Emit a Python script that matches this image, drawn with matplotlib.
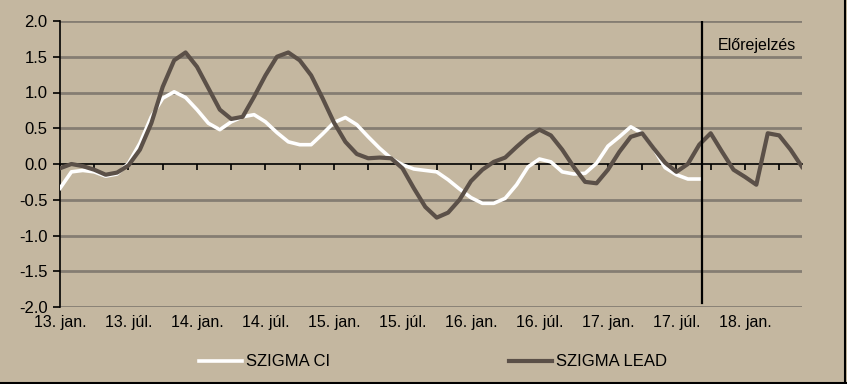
import matplotlib
matplotlib.use("Agg")
import matplotlib.pyplot as plt
from matplotlib.lines import Line2D

plt.rcParams['font.family'] = ['Liberation Sans', 'DejaVu Sans']
plt.rcParams['axes.unicode_minus'] = False

# monthly data, Jan 2013 .. Jun 2018
month_labels = ['13. jan.', '13. júl.', '14. jan.', '14. júl.', '15. jan.', '15. júl.',
                '16. jan.', '16. júl.', '17. jan.', '17. júl.', '18. jan.']

szigma_ci = [-0.34, -0.11, -0.09, -0.11, -0.17, -0.14, 0.01, 0.29, 0.66, 0.92,
             1.01, 0.93, 0.76, 0.57, 0.48, 0.59, 0.66, 0.69, 0.59, 0.44,
             0.31, 0.27, 0.27, 0.42, 0.58, 0.65, 0.55, 0.38, 0.22, 0.08,
             -0.01, -0.07, -0.09, -0.11, -0.22, -0.35, -0.47, -0.55, -0.55, -0.48,
             -0.29, -0.04, 0.07, 0.03, -0.11, -0.14, -0.13, 0.01, 0.25, 0.38,
             0.52, 0.43, 0.22, -0.05, -0.15, -0.21, -0.21]

szigma_lead = [-0.06, 0.00, -0.03, -0.08, -0.15, -0.12, -0.02, 0.20, 0.57, 1.08,
               1.45, 1.56, 1.36, 1.06, 0.76, 0.63, 0.66, 0.94, 1.24, 1.50,
               1.56, 1.45, 1.24, 0.92, 0.58, 0.31, 0.14, 0.08, 0.09, 0.08,
               -0.06, -0.34, -0.60, -0.75, -0.68, -0.50, -0.24, -0.08, 0.03, 0.09,
               0.24, 0.38, 0.48, 0.40, 0.20, -0.04, -0.25, -0.27, -0.08, 0.17,
               0.38, 0.43, 0.22, 0.02, -0.11, 0.00, 0.27, 0.43, 0.17, -0.08,
               -0.18, -0.29, 0.43, 0.40, 0.20, -0.04]

forecast_start = 56.25
y_ticks = [-2.0, -1.5, -1.0, -0.5, 0.0, 0.5, 1.0, 1.5, 2.0]

bg = '#C4B7A0'
grid_col = '#857D72'
lead_col = '#5B5048'

W, H = 847, 384
fig = plt.figure(figsize=(W / 100, H / 100), dpi=100, facecolor=bg)
ax = fig.add_axes([60 / W, 1 - 307 / H, (802 - 60) / W, (307 - 21) / H], facecolor=bg)

n = len(szigma_lead)
ax.set_xlim(0, n - 1)
ax.set_ylim(-2, 2)

for v in y_ticks:
    if v != 0:
        ax.axhline(v, color=grid_col, lw=2, zorder=1)

ax.plot(range(len(szigma_ci)), szigma_ci, color='white', lw=2.6, zorder=3,
        solid_joinstyle='round', label='SZIGMA CI')
ax.plot(range(n), szigma_lead, color=lead_col, lw=3, zorder=4,
        solid_joinstyle='round', label='SZIGMA LEAD')

ax.plot([forecast_start, forecast_start], [-1.95, 2.0], color='black', lw=1.6, zorder=5)
ax.text(forecast_start + 1.4, 1.66, 'Előrejelzés', fontsize=11.5, va='center', ha='left')

# axes styling
for s in ['top', 'right']:
    ax.spines[s].set_visible(False)
ax.spines['left'].set_color('black')
ax.spines['left'].set_linewidth(1.2)
ax.spines['bottom'].set_position(('data', 0))
ax.spines['bottom'].set_color('black')
ax.spines['bottom'].set_linewidth(1.2)
ax.spines['bottom'].set_zorder(2)

ax.set_yticks(y_ticks)
ax.set_yticklabels([f'{v:.1f}' for v in y_ticks], fontsize=12)
ax.tick_params(axis='y', direction='out', length=5, width=1.2, pad=4)

ax.set_xticks(range(0, n, 3))
ax.tick_params(axis='x', direction='out', length=4, width=1.2, labelbottom=False)

sec = ax.secondary_xaxis('bottom')
sec.set_xticks(range(0, n, 6)[:len(month_labels)])
sec.set_xticklabels(month_labels, fontsize=11.5)
sec.tick_params(length=0, pad=6)
sec.spines['bottom'].set_visible(False)

fig.legend(loc='center', bbox_to_anchor=(433 / W, 1 - 362 / H), ncol=2, frameon=False,
           fontsize=12, handlelength=2.6, handletextpad=0.25, columnspacing=10.7)

# frame edges seen at right and bottom
fig.add_artist(Line2D([0, 1], [0.002, 0.002], color='black', lw=1.5, transform=fig.transFigure))
fig.add_artist(Line2D([0.998, 0.998], [0, 1], color='black', lw=1.5, transform=fig.transFigure))

fig.savefig('out.png', dpi=100, facecolor=bg)
